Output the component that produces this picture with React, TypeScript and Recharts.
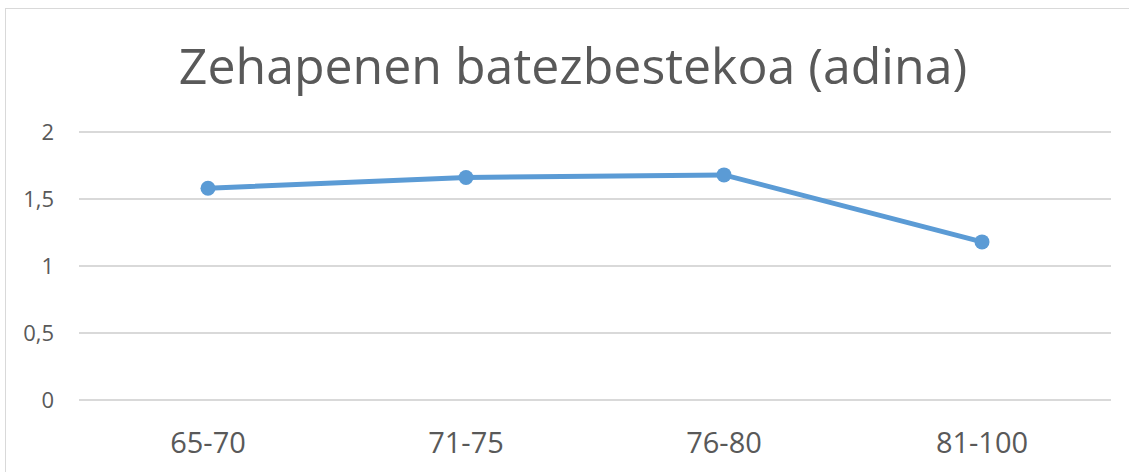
import { LineChart, Line, XAxis, YAxis, CartesianGrid } from "recharts";

const ageGroups = ["65-70", "71-75", "76-80", "81-100"];
const avgPenalties = [1.58, 1.66, 1.68, 1.18];
const yTicks = [0, 0.5, 1, 1.5, 2];

const chartData = ageGroups.map((group, i) => ({
  group,
  value: avgPenalties[i],
}));

const textColor = "#595959";
const gridColor = "#d9d9d9";
const lineColor = "#5b9bd5";
const font = "'Open Sans', sans-serif";

const formatComma = (v: number) => String(v).replace(".", ",");

export default function App() {
  return (
    <div
      style={{
        position: "absolute",
        left: 0,
        top: 0,
        width: 1129,
        height: 472,
        overflow: "hidden",
        background: "#fff",
        fontFamily: font,
      }}
    >
      <div
        style={{
          position: "absolute",
          left: 5,
          top: 8,
          width: 1200,
          height: 600,
          border: `1px solid ${gridColor}`,
        }}
      />
      <div
        style={{
          position: "absolute",
          left: 0,
          top: 40,
          width: 1146,
          textAlign: "center",
          fontSize: 50,
          lineHeight: "50px",
          color: textColor,
          whiteSpace: "nowrap",
        }}
      >
        Zehapenen batezbestekoa (adina)
      </div>
      <LineChart
        width={1129}
        height={472}
        data={chartData}
        margin={{ top: 132, right: 18, bottom: 0, left: 0 }}
        style={{ position: "absolute", left: 0, top: 0 }}
      >
        <CartesianGrid vertical={false} stroke={gridColor} strokeWidth={2} />
        <XAxis
          dataKey="group"
          axisLine={false}
          tickLine={false}
          height={72}
          tickMargin={26}
          padding={{ left: 129, right: 129 }}
          tick={{ fill: textColor, fontSize: 29, fontFamily: font }}
          interval={0}
        />
        <YAxis
          domain={[0, 2]}
          ticks={yTicks}
          width={79}
          axisLine={false}
          tickLine={false}
          tickMargin={19}
          tickFormatter={formatComma}
          tick={{ fill: textColor, fontSize: 22, fontFamily: font }}
        />
        <Line
          type="linear"
          dataKey="value"
          stroke={lineColor}
          strokeWidth={5}
          dot={{ r: 7.5, fill: lineColor, stroke: lineColor, strokeWidth: 0 }}
          isAnimationActive={false}
        />
      </LineChart>
    </div>
  );
}
